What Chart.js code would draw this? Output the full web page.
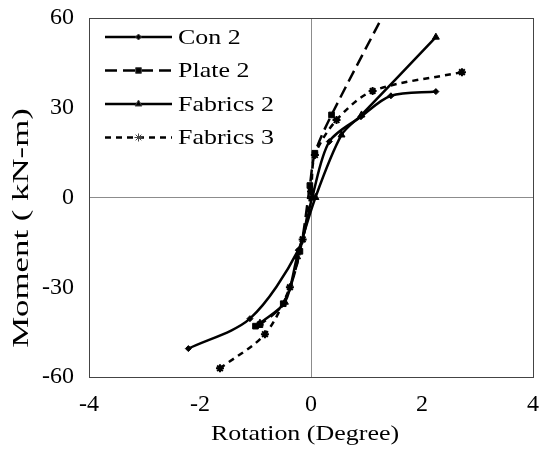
<!DOCTYPE html>
<html>
<head>
<meta charset="utf-8">
<script src="https://cdn.jsdelivr.net/npm/chart.js@4/dist/chart.umd.min.js"></script>
<style>
  html, body { margin: 0; padding: 0; background: #fff; }
  canvas { display: block; }
</style>
</head>
<body>
<canvas id="c" width="539" height="450"></canvas>
<script>
// Moment–rotation curves (rotation in degrees, moment in kN-m)
const seriesNames = ['Con 2', 'Plate 2', 'Fabrics 2', 'Fabrics 3'];

const con2Rot = [-2.21, -1.10, -0.23, 0.02, 0.33, 0.90, 1.44, 2.25];
const con2Mom = [-50.5, -40.5, -17.6, 0.0, 18.7, 27.0, 34.0, 35.4];

const plate2Rot = [-1.00, -0.92, -0.50, -0.20, -0.02, 0.07, 0.37, 1.50];
const plate2Mom = [-43.0, -42.5, -35.5, -18.0, 4.0, 14.8, 27.6, 68.0];

const fabrics2Rot = [-0.92, -0.47, -0.25, 0.08, 0.55, 0.91, 2.25];
const fabrics2Mom = [-42.0, -35.0, -19.8, 0.0, 20.9, 27.6, 53.6];

const fabrics3Rot = [-1.64, -0.83, -0.38, -0.15, 0.00, 0.07, 0.46, 1.11, 2.72];
const fabrics3Mom = [-57.1, -45.7, -30.0, -14.0, 2.0, 14.2, 25.9, 35.6, 41.9];

const xTicks = [-4, -2, 0, 2, 4];
const yTicks = [-60, -30, 0, 30, 60];

const xTitle = 'Rotation (Degree)';
const yTitle = 'Moment ( kN-m)';

const FONT = '"Liberation Serif", "Times New Roman", serif';
const TICK_SIZE = 24;
const TEXT_SIZE = 22;
const TEXT_STRETCH = 1.18;

function pts(xs, ys) {
  return xs.map((x, i) => ({ x: x, y: ys[i] }));
}

const styles = [
  { dash: [], pointStyle: 'rectRot', radius: 3 },
  { dash: [12, 6], pointStyle: 'rect', radius: 4 },
  { dash: [], pointStyle: 'triangle', radius: 4 },
  { dash: [6, 5], pointStyle: 'star', radius: 4 }
];

const rawData = [
  pts(con2Rot, con2Mom),
  pts(plate2Rot, plate2Mom),
  pts(fabrics2Rot, fabrics2Mom),
  pts(fabrics3Rot, fabrics3Mom)
];

const datasets = rawData.map((d, i) => ({
  label: seriesNames[i],
  data: d,
  showLine: true,
  borderColor: '#000',
  backgroundColor: '#000',
  borderWidth: 2.5,
  borderDash: styles[i].dash,
  pointStyle: styles[i].pointStyle,
  pointRadius: styles[i].radius,
  pointBorderWidth: i === 3 ? 2 : 1,
  pointBorderColor: '#000',
  pointBackgroundColor: '#000',
  tension: 0.3
}));

// text drawn slightly widened, the way the original figure renders it
function wideText(ctx, text, x, y, align, stretch) {
  ctx.save();
  ctx.translate(x, y);
  ctx.scale(stretch, 1);
  ctx.textAlign = align;
  ctx.fillText(text, 0, 0);
  ctx.restore();
}

// Frame, in-plot legend and axis titles
const decorations = {
  id: 'decorations',
  afterDraw(chart) {
    const ctx = chart.ctx;
    const a = chart.chartArea;
    ctx.save();
    ctx.strokeStyle = '#444';
    ctx.lineWidth = 1;
    ctx.strokeRect(Math.round(a.left) + 0.5, Math.round(a.top) + 0.5,
                   Math.round(a.right - a.left), Math.round(a.bottom - a.top));

    // legend
    ctx.font = TEXT_SIZE + 'px ' + FONT;
    ctx.fillStyle = '#000';
    ctx.textBaseline = 'middle';
    chart.data.datasets.forEach((ds, i) => {
      const y = 37 + i * 33.5;
      ctx.save();
      ctx.strokeStyle = '#000';
      ctx.lineWidth = ds.borderWidth;
      ctx.setLineDash(ds.borderDash);
      ctx.beginPath();
      ctx.moveTo(105, y);
      ctx.lineTo(172, y);
      ctx.stroke();
      ctx.restore();
      Chart.helpers.drawPoint(ctx, {
        pointStyle: ds.pointStyle,
        radius: ds.pointRadius,
        borderWidth: ds.pointBorderWidth,
        rotation: 0
      }, 138.5, y);
      wideText(ctx, ds.label, 178, y + 1, 'left', TEXT_STRETCH);
    });

    // axis titles
    wideText(ctx, xTitle, 305, 434, 'center', TEXT_STRETCH);
    ctx.save();
    ctx.font = '24px ' + FONT;
    ctx.translate(22, 228);
    ctx.rotate(-Math.PI / 2);
    wideText(ctx, yTitle, 0, 0, 'center', 1.45);
    ctx.restore();
    ctx.restore();
  }
};

Chart.defaults.font.family = FONT;

new Chart(document.getElementById('c'), {
  type: 'scatter',
  data: { datasets: datasets },
  options: {
    responsive: false,
    devicePixelRatio: 1,
    animation: false,
    layout: { padding: { left: 0, right: 6, top: 18, bottom: 0 } },
    plugins: {
      legend: { display: false },
      tooltip: { enabled: false }
    },
    scales: {
      x: {
        type: 'linear',
        min: xTicks[0],
        max: xTicks[xTicks.length - 1],
        afterBuildTicks: s => { s.ticks = xTicks.map(v => ({ value: v })); },
        afterFit: s => { s.height = 73; s.paddingLeft = 0; s.paddingRight = 0; },
        ticks: {
          font: { size: TICK_SIZE, family: FONT },
          color: '#000',
          padding: 13,
          maxRotation: 0
        },
        grid: {
          drawTicks: false,
          color: c => (c.tick && c.tick.value === 0) ? '#8c8c8c' : 'rgba(0,0,0,0)',
          lineWidth: 1
        },
        border: { display: false }
      },
      y: {
        type: 'linear',
        min: yTicks[0],
        max: yTicks[yTicks.length - 1],
        afterBuildTicks: s => { s.ticks = yTicks.map(v => ({ value: v })); },
        afterFit: s => { s.width = 89; s.paddingTop = 0; s.paddingBottom = 0; },
        ticks: {
          font: { size: TICK_SIZE, family: FONT },
          color: '#000',
          padding: 15
        },
        grid: {
          drawTicks: false,
          color: c => (c.tick && c.tick.value === 0) ? '#8c8c8c' : 'rgba(0,0,0,0)',
          lineWidth: 1
        },
        border: { display: false }
      }
    }
  },
  plugins: [decorations]
});
</script>
</body>
</html>
